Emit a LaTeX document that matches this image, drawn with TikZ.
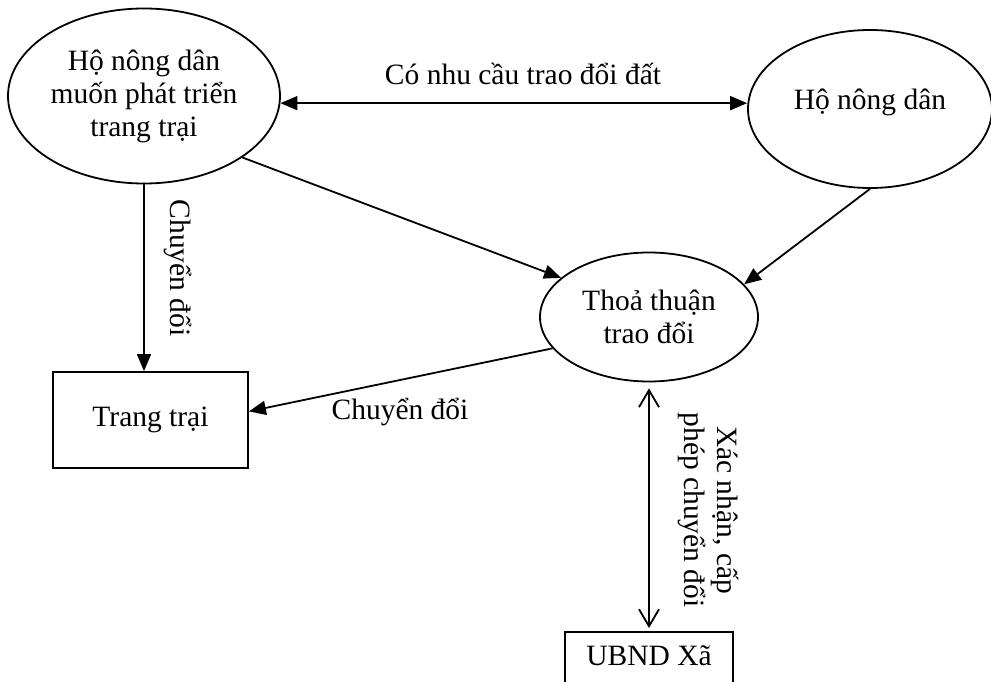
\documentclass[tikz,border=0pt]{standalone}
\usepackage{fontspec}
\setmainfont{Liberation Serif}
\usetikzlibrary{arrows.meta,shapes.geometric}
\begin{document}
\begin{tikzpicture}[x=1pt,y=-1pt,
  every node/.style={font=\fontsize{29.5}{33}\selectfont},
  oval/.style={draw, ellipse, line width=1.8pt, inner sep=0pt, align=center},
  boxnode/.style={draw, rectangle, line width=1.8pt, inner sep=0pt},
  conn/.style={line width=1.8pt},
  tri/.style={-{Triangle[length=17pt,width=14pt]}},
  bitri/.style={{Triangle[length=17pt,width=14pt]}-{Triangle[length=17pt,width=14pt]}},
  bibarb/.style={{Straight Barb[length=17pt,width=20pt]}-{Straight Barb[length=17pt,width=20pt]}}
]
\useasboundingbox (0,0) rectangle (991,682);
\clip (0,0) rectangle (991,682);

\node[oval, minimum width=272pt, minimum height=175pt] (A) at (144,96) {Hộ nông dân\\muốn phát triển\\trang trại};
\node[oval, minimum width=244pt, minimum height=158pt] (B) at (870,109) {\raisebox{7pt}[\height][\depth]{Hộ nông dân}};
\node[oval, minimum width=218pt, minimum height=129pt] (C) at (649,317) {Thoả thuận\\trao đổi};
\node[boxnode, minimum width=195pt, minimum height=96pt] (T) at (150.5,420) {Trang trại};
\node[boxnode, minimum width=168pt, text height=34pt, text depth=60pt, anchor=north] (U) at (649,631) {UBND Xã};

\draw[conn, bitri] (A.-3) -- (B.west |- A.-3);
\draw[conn, tri] (A.-32.7) -- (C.156.9);
\draw[conn, tri] (B.south) -- (C.19.65);
\draw[conn, tri] (A.south) -- (A.south |- T.north);
\draw[conn, tri] (C.-162.3) -- (T.5.9);
\draw[conn, bibarb, shorten <=6pt, shorten >=3pt] (C.south) -- (C.south |- U.north);

\node[anchor=base] (l1) at (523,85) {Có nhu cầu trao đổi đất};
\node[anchor=base, rotate=-90] (l2) at (170,268) {Chuyển đổi};
\node[anchor=base] (l3) at (400,419) {Chuyển đổi};
\node[rotate=-90, align=center] (l4) at (708,510) {Xác nhận, cấp\\phép chuyển đổi};
\end{tikzpicture}
\end{document}
